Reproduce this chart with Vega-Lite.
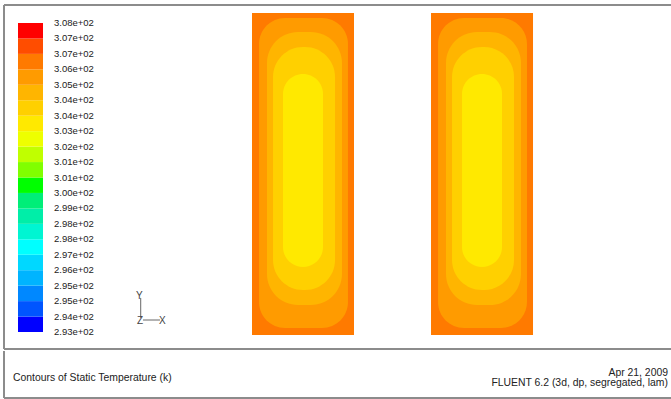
{
  "$schema": "https://vega.github.io/schema/vega-lite/v6.json",
  "background": "white",
  "padding": {"left": 3, "top": 4, "right": 0, "bottom": 0},
  "spacing": 0,
  "config": {"view": {"stroke": null}, "font": "Liberation Sans"},
  "datasets": {
    "tubes": [
      {"tube": "A", "level": 1, "x": 0, "x2": 10, "y": 0, "y2": 31.57, "T": 306.1},
      {"tube": "A", "level": 2, "x": 0.69, "x2": 9.41, "y": 0.69, "y2": 31.08, "T": 305.4},
      {"tube": "A", "level": 3, "x": 1.47, "x2": 8.82, "y": 2.94, "y2": 29.71, "T": 304.6},
      {"tube": "A", "level": 4, "x": 2.06, "x2": 8.14, "y": 4.41, "y2": 28.24, "T": 303.9},
      {"tube": "A", "level": 5, "x": 3.04, "x2": 6.96, "y": 6.67, "y2": 25.59, "T": 303.1},
      {"tube": "B", "level": 1, "x": 17.55, "x2": 27.55, "y": 0, "y2": 31.57, "T": 306.1},
      {"tube": "B", "level": 2, "x": 18.24, "x2": 26.96, "y": 0.69, "y2": 31.08, "T": 305.4},
      {"tube": "B", "level": 3, "x": 19.02, "x2": 26.37, "y": 2.94, "y2": 29.71, "T": 304.6},
      {"tube": "B", "level": 4, "x": 19.61, "x2": 25.69, "y": 4.41, "y2": 28.24, "T": 303.9},
      {"tube": "B", "level": 5, "x": 20.59, "x2": 24.51, "y": 6.67, "y2": 25.59, "T": 303.1}
    ],
    "bands": [
      {"lo": 293, "hi": 293.75, "T": 293.375},
      {"lo": 293.75, "hi": 294.5, "T": 294.125},
      {"lo": 294.5, "hi": 295.25, "T": 294.875},
      {"lo": 295.25, "hi": 296, "T": 295.625},
      {"lo": 296, "hi": 296.75, "T": 296.375},
      {"lo": 296.75, "hi": 297.5, "T": 297.125},
      {"lo": 297.5, "hi": 298.25, "T": 297.875},
      {"lo": 298.25, "hi": 299, "T": 298.625},
      {"lo": 299, "hi": 299.75, "T": 299.375},
      {"lo": 299.75, "hi": 300.5, "T": 300.125},
      {"lo": 300.5, "hi": 301.25, "T": 300.875},
      {"lo": 301.25, "hi": 302, "T": 301.625},
      {"lo": 302, "hi": 302.75, "T": 302.375},
      {"lo": 302.75, "hi": 303.5, "T": 303.125},
      {"lo": 303.5, "hi": 304.25, "T": 303.875},
      {"lo": 304.25, "hi": 305, "T": 304.625},
      {"lo": 305, "hi": 305.75, "T": 305.375},
      {"lo": 305.75, "hi": 306.5, "T": 306.125},
      {"lo": 306.5, "hi": 307.25, "T": 306.875},
      {"lo": 307.25, "hi": 308, "T": 307.625}
    ],
    "ticks": [
      {"v": 293, "label": "2.93e+02"},
      {"v": 293.75, "label": "2.94e+02"},
      {"v": 294.5, "label": "2.95e+02"},
      {"v": 295.25, "label": "2.95e+02"},
      {"v": 296, "label": "2.96e+02"},
      {"v": 296.75, "label": "2.97e+02"},
      {"v": 297.5, "label": "2.98e+02"},
      {"v": 298.25, "label": "2.98e+02"},
      {"v": 299, "label": "2.99e+02"},
      {"v": 299.75, "label": "3.00e+02"},
      {"v": 300.5, "label": "3.01e+02"},
      {"v": 301.25, "label": "3.01e+02"},
      {"v": 302, "label": "3.02e+02"},
      {"v": 302.75, "label": "3.03e+02"},
      {"v": 303.5, "label": "3.04e+02"},
      {"v": 304.25, "label": "3.04e+02"},
      {"v": 305, "label": "3.05e+02"},
      {"v": 305.75, "label": "3.06e+02"},
      {"v": 306.5, "label": "3.07e+02"},
      {"v": 307.25, "label": "3.07e+02"},
      {"v": 308, "label": "3.08e+02"}
    ],
    "triadLines": [
      {"x": -10.91, "x2": -10.91, "y": 1.67, "y2": 3.63},
      {"x": -10.69, "x2": -9.02, "y": 1.47, "y2": 1.47}
    ],
    "triadText": [
      {"x": -11.05, "y": 3.85, "label": "Y"},
      {"x": -10.98, "y": 1.40, "label": "Z"},
      {"x": -8.79, "y": 1.40, "label": "X"}
    ],
    "one": [{"k": 1}],
    "footer": [
      {"side": "left", "line": 1.5, "text": "Contours of Static Temperature (k)"},
      {"side": "right", "line": 1, "text": "Apr 21, 2009"},
      {"side": "right", "line": 2, "text": "FLUENT 6.2 (3d, dp, segregated, lam)"}
    ]
  },
  "vconcat": [
    {
      "spacing": 0,
      "bounds": "flush",
      "hconcat": [
        {
          "width": 120,
          "height": 344,
          "layer": [
            {
              "data": {"name": "bands"},
              "mark": {"type": "rect"},
              "encoding": {
                "x": {"datum": 0, "type": "quantitative", "scale": {"domain": [-0.56, 4.24], "nice": false, "zero": false}, "axis": null},
                "x2": {"datum": 1},
                "y": {"field": "lo", "type": "quantitative", "scale": {"domain": [292.175, 308.874], "nice": false, "zero": false}, "axis": null},
                "y2": {"field": "hi"},
                "color": {
                  "field": "T",
                  "type": "quantitative",
                  "scale": {
                    "type": "quantize",
                    "domain": [293, 308],
                    "nice": false,
                    "zero": false,
                    "range": ["#0000FF", "#0055FF", "#0088FF", "#00B4FF", "#00D8FF", "#00FFFF", "#00F5D2", "#00EEA8", "#00EE78", "#00FF00",
                              "#80FF00", "#C0FF00", "#EEFF00", "#FFE900", "#FFD000", "#FFB500", "#FF9B00", "#FF7A00", "#FF4D00", "#FF0000"]
                  },
                  "legend": null
                }
              }
            },
            {
              "data": {"name": "ticks"},
              "mark": {"type": "text", "align": "left", "baseline": "middle", "dx": 11, "font": "Liberation Sans", "fontSize": 9.5, "color": "#222222"},
              "encoding": {
                "x": {"datum": 1, "type": "quantitative", "scale": {"domain": [-0.56, 4.24], "nice": false, "zero": false}, "axis": null},
                "y": {"field": "v", "type": "quantitative", "scale": {"domain": [292.175, 308.874], "nice": false, "zero": false}, "axis": null},
                "text": {"field": "label"}
              }
            },
            {
              "data": {"name": "one"},
              "mark": {"type": "rule", "color": "#8c8c8c", "strokeWidth": 2},
              "encoding": {"y": {"datum": 308.874, "type": "quantitative", "scale": {"domain": [292.175, 308.874], "nice": false, "zero": false}, "axis": null}}
            },
            {
              "data": {"name": "one"},
              "mark": {"type": "rule", "color": "#8c8c8c", "strokeWidth": 2},
              "encoding": {"y": {"datum": 292.175, "type": "quantitative", "scale": {"domain": [292.175, 308.874], "nice": false, "zero": false}, "axis": null}}
            },
            {
              "data": {"name": "one"},
              "mark": {"type": "rule", "color": "#8c8c8c", "strokeWidth": 2},
              "encoding": {"x": {"datum": -0.56, "type": "quantitative", "scale": {"domain": [-0.56, 4.24], "nice": false, "zero": false}, "axis": null}}
            }
          ]
        },
        {
          "width": 547,
          "height": 344,
          "layer": [
            {
              "data": {"name": "tubes"},
              "encoding": {
                "x": {"field": "x", "type": "quantitative", "scale": {"domain": [-12.549, 41.078], "nice": false, "zero": false}, "axis": null},
                "x2": {"field": "x2"},
                "y": {"field": "y", "type": "quantitative", "scale": {"domain": [-1.373, 32.353], "nice": false, "zero": false}, "axis": null},
                "y2": {"field": "y2"},
                "color": {
                  "field": "T",
                  "type": "quantitative",
                  "scale": {
                    "type": "quantize",
                    "domain": [293, 308],
                    "nice": false,
                    "zero": false,
                    "range": ["#0000FF", "#0055FF", "#0088FF", "#00B4FF", "#00D8FF", "#00FFFF", "#00F5D2", "#00EEA8", "#00EE78", "#00FF00",
                              "#80FF00", "#C0FF00", "#EEFF00", "#FFE900", "#FFD000", "#FFB500", "#FF9B00", "#FF7A00", "#FF4D00", "#FF0000"]
                  },
                  "legend": null
                }
              },
              "layer": [
                {"transform": [{"filter": "datum.level == 1"}], "mark": {"type": "rect", "cornerRadius": 0}},
                {"transform": [{"filter": "datum.level == 2"}], "mark": {"type": "rect", "cornerRadius": 26}},
                {"transform": [{"filter": "datum.level == 3"}], "mark": {"type": "rect", "cornerRadius": 31}},
                {"transform": [{"filter": "datum.level == 4"}], "mark": {"type": "rect", "cornerRadius": 30}},
                {"transform": [{"filter": "datum.level == 5"}], "mark": {"type": "rect", "cornerRadius": 20}}
              ]
            },
            {
              "data": {"name": "triadLines"},
              "mark": {"type": "rule", "color": "#666666", "strokeWidth": 1},
              "encoding": {
                "x": {"field": "x", "type": "quantitative", "scale": {"domain": [-12.549, 41.078], "nice": false, "zero": false}, "axis": null},
                "x2": {"field": "x2"},
                "y": {"field": "y", "type": "quantitative", "scale": {"domain": [-1.373, 32.353], "nice": false, "zero": false}, "axis": null},
                "y2": {"field": "y2"}
              }
            },
            {
              "data": {"name": "triadText"},
              "mark": {"type": "text", "font": "Liberation Sans", "fontSize": 10, "color": "#444444", "align": "center", "baseline": "middle"},
              "encoding": {
                "x": {"field": "x", "type": "quantitative", "scale": {"domain": [-12.549, 41.078], "nice": false, "zero": false}, "axis": null},
                "y": {"field": "y", "type": "quantitative", "scale": {"domain": [-1.373, 32.353], "nice": false, "zero": false}, "axis": null},
                "text": {"field": "label"}
              }
            },
            {
              "data": {"name": "one"},
              "mark": {"type": "rule", "color": "#8c8c8c", "strokeWidth": 2},
              "encoding": {"y": {"datum": 32.353, "type": "quantitative", "scale": {"domain": [-1.373, 32.353], "nice": false, "zero": false}, "axis": null}}
            },
            {
              "data": {"name": "one"},
              "mark": {"type": "rule", "color": "#8c8c8c", "strokeWidth": 2},
              "encoding": {"y": {"datum": -1.373, "type": "quantitative", "scale": {"domain": [-1.373, 32.353], "nice": false, "zero": false}, "axis": null}}
            }
          ]
        }
      ]
    },
    {
      "width": 667,
      "height": 47,
      "layer": [
        {
          "data": {"name": "footer"},
          "transform": [{"filter": "datum.side == 'left'"}],
          "mark": {"type": "text", "align": "left", "baseline": "middle", "dx": 9, "font": "Liberation Sans", "fontSize": 10.4, "color": "#222222"},
          "encoding": {
            "x": {"field": "side", "type": "nominal", "scale": {"type": "point", "domain": ["left", "right"], "padding": 0}, "axis": null},
            "y": {"field": "line", "type": "quantitative", "scale": {"domain": [-1.2, 3.5], "reverse": true, "nice": false, "zero": false}, "axis": null},
            "text": {"field": "text"}
          }
        },
        {
          "data": {"name": "footer"},
          "transform": [{"filter": "datum.side == 'right'"}],
          "mark": {"type": "text", "align": "right", "baseline": "middle", "dx": -3, "font": "Liberation Sans", "fontSize": 10.4, "color": "#222222"},
          "encoding": {
            "x": {"field": "side", "type": "nominal", "scale": {"type": "point", "domain": ["left", "right"], "padding": 0}, "axis": null},
            "y": {"field": "line", "type": "quantitative", "scale": {"domain": [-1.2, 3.5], "reverse": true, "nice": false, "zero": false}, "axis": null},
            "text": {"field": "text"}
          }
        },
        {
          "data": {"name": "one"},
          "mark": {"type": "rule", "color": "#8c8c8c", "strokeWidth": 2},
          "encoding": {"x": {"datum": "left", "type": "nominal", "scale": {"type": "point", "domain": ["left", "right"], "padding": 0}, "axis": null}}
        },
        {
          "data": {"name": "one"},
          "mark": {"type": "rule", "color": "#8c8c8c", "strokeWidth": 2},
          "encoding": {"y": {"datum": 3.5, "type": "quantitative", "scale": {"domain": [-1.2, 3.5], "reverse": true, "nice": false, "zero": false}, "axis": null}}
        }
      ]
    }
  ]
}
